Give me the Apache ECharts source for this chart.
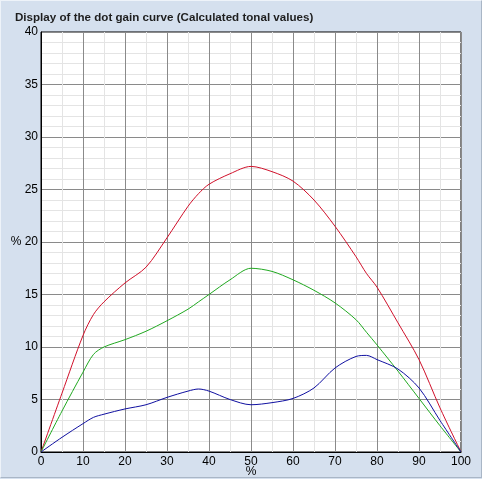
<!DOCTYPE html>
<html>
<head>
<meta charset="utf-8">
<script src="https://cdn.jsdelivr.net/npm/echarts@6/dist/echarts.min.js"></script>
<style>
  html, body { margin: 0; padding: 0; background: #d5e0ee; }
  #chart { position: absolute; left: 0; top: 0; width: 480px; height: 476px;
           border-top: 1px solid #eef3f9; border-left: 1px solid #eef3f9;
           border-right: 1px solid #a9b6c6; border-bottom: 1px solid #a9b6c6; }
</style>
</head>
<body>
<div id="chart"></div>
<script>
    // tonal value steps in %
    var tonal = [0, 5, 10, 12.5, 15, 20, 25, 30, 35, 37.5, 40, 45, 50, 55, 60, 65, 70, 75, 77.5, 80, 85, 90, 95, 100];

    // dot gain per curve
    var redGain   = [0, 5.6, 11.1, 13.1, 14.3, 16.1, 17.6, 20.4, 23.4, 24.6, 25.5, 26.5, 27.2, 26.7, 25.8, 24.0, 21.5, 18.6, 17.0, 15.7, 12.3, 8.8, 4.2, 0];
    var greenGain = [0, 3.9, 7.6, 9.3, 10.0, 10.7, 11.5, 12.5, 13.6, 14.3, 15.0, 16.4, 17.5, 17.2, 16.4, 15.4, 14.2, 12.6, 11.4, 10.2, 7.7, 5.1, 2.5, 0];
    var blueGain  = [0, 1.4, 2.7, 3.3, 3.6, 4.1, 4.5, 5.2, 5.8, 6.0, 5.8, 5.0, 4.5, 4.7, 5.1, 6.1, 8.0, 9.1, 9.2, 8.8, 7.9, 6.1, 3.0, 0];

    function pairs(values) {
        var out = [];
        for (var i = 0; i < tonal.length; i++) {
            out.push([tonal[i], values[i]]);
        }
        return out;
    }

    function line(name, color, values) {
        return {
            name: name,
            type: 'line',
            data: pairs(values),
            smooth: 0.3,
            showSymbol: false,
            lineStyle: { color: color, width: 1 },
            itemStyle: { color: color }
        };
    }

    var chart = echarts.init(document.getElementById('chart'));

    var option = {
        animation: false,
        title: {
            text: 'Display of the dot gain curve (Calculated tonal values)',
            left: 9,
            top: 6,
            textStyle: {
                fontFamily: 'Liberation Sans',
                fontSize: 11.6,
                fontWeight: 'bold',
                color: '#1e1e1e'
            }
        },
        grid: {
            left: 40,
            top: 31,
            width: 420,
            height: 420,
            outerBoundsMode: 'none',
            containLabel: false,
            show: true,
            backgroundColor: '#ffffff',
            borderColor: '#000000',
            borderWidth: 1
        },
        xAxis: {
            type: 'value',
            min: 0,
            max: 100,
            interval: 10,
            name: '%',
            nameLocation: 'middle',
            nameGap: 14,
            nameMoveOverlap: false,
            nameTextStyle: { fontFamily: 'Liberation Sans', fontSize: 12, color: '#000', verticalAlign: 'top' },
            axisLine: { lineStyle: { color: '#000' } },
            axisTick: { show: false },
            axisLabel: { fontFamily: 'Liberation Sans', fontSize: 12, color: '#000', margin: 4 },
            splitLine: { lineStyle: { color: '#8a8a8a' } },
            minorTick: { show: false, splitNumber: 2 },
            minorSplitLine: { show: true, lineStyle: { color: '#e4e4e4' } }
        },
        yAxis: {
            type: 'value',
            min: 0,
            max: 40,
            interval: 5,
            axisLine: { lineStyle: { color: '#000' } },
            axisTick: { show: false },
            axisLabel: {
                fontFamily: 'Liberation Sans',
                fontSize: 12,
                color: '#000',
                margin: 3,
                formatter: function(v) {
                    return v === 20 ? '% 20' : String(v);
                }
            },
            splitLine: { lineStyle: { color: '#8a8a8a' } },
            minorTick: { show: false, splitNumber: 5 },
            minorSplitLine: { show: true, lineStyle: { color: '#e4e4e4' } }
        },
        series: [
            line('red', '#d0102a', redGain),
            line('green', '#20a820', greenGain),
            line('blue', '#1010a0', blueGain)
        ]
    };
    chart.setOption(option);
</script>
</body>
</html>
